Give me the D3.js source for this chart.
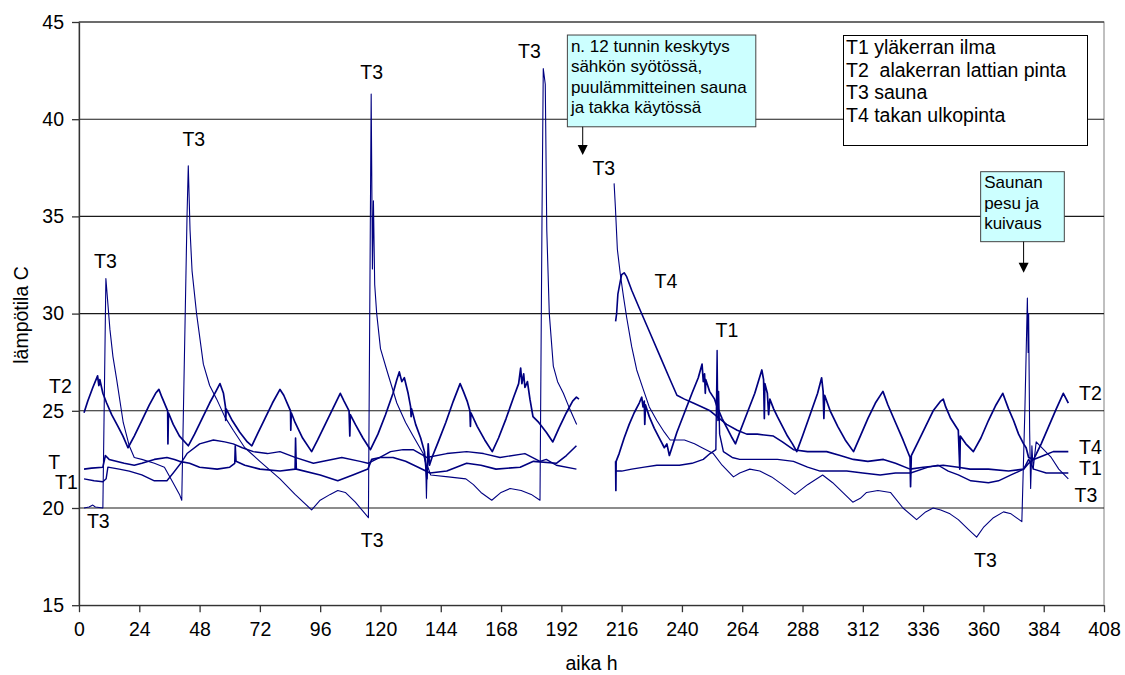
<!DOCTYPE html>
<html>
<head>
<meta charset="utf-8">
<script src="https://cdn.jsdelivr.net/npm/d3@7"></script>
<style>
  body { margin: 0; background: #fff; }
  svg { display: block; font-family: "Liberation Sans", Arial, sans-serif; }
</style>
</head>
<body>
<svg id="chart" width="1125" height="675"></svg>
<script>
// ---- axes ----
const xTicks = d3.range(0, 409, 24);          // aika h
const yTicks = [15, 20, 25, 30, 35, 40, 45];   // lämpötila C
const yGrid = [20, 25, 30, 35, 40, 45];

// ---- measured temperatures: [hour, °C]; null marks the power outage gap ----
const t1 = [
  [2,21.5],[6,21.4],[9.5,21.35],[10.8,21.5],[11.5,22.1],[16,22.0],[20,21.9],[25,21.7],[30,21.4],[35,21.4],
  [37.5,21.8],[40.5,22.3],[43,22.8],[48,23.3],[53.5,23.5],[58,23.4],[61.4,23.3],[65,23.1],[69.4,22.9],[75,22.8],
  [80,22.9],[86,22.6],[93.3,22.3],[104.6,22.6],[111.9,22.4],[115,22.3],[119.8,22.6],[124,22.9],[129,23.0],[133,23.0],
  [138.4,22.6],[146.4,22.8],[154.3,22.9],[161,22.8],[167.6,22.6],[177.5,22.8],[183.5,22.4],[186,22.5],[190,22.2],[198,22.0],
  [205,null],
  [213.6,21.9],[216,21.9],[220,22.0],[225,22.1],[230,22.2],[235,22.2],[239,22.2],[244,22.3],[248.5,22.5],[251.2,22.8],
  [253.5,23.0],[254,28.1],[254.3,24.5],[254.6,26.0],[255,23.8],[256.5,22.9],[260,22.6],[263,22.5],[270,22.5],[278,22.5],
  [284.4,22.4],[290,22.1],[295,21.9],[305.6,21.9],[312,21.8],[318.9,21.7],[325,21.8],[331,21.8],[338,22.1],[342,22.2],
  [346,21.9],[350,21.7],[355,21.4],[362,21.3],[366,21.4],[371,21.7],[376,22.0],[378,22.5],[380,22.0],[385,21.8],[393.8,21.8]
];

const t2 = [
  [2,24.9],[3.5,25.5],[5.5,26.2],[7.4,26.8],[7.9,26.3],[8.3,26.6],[9.5,25.9],[11,25.4],[13,24.8],[15.5,24.2],
  [17.5,23.7],[19.5,23.1],[22,23.7],[25,24.5],[28,25.3],[30.5,25.9],[31.8,26.1],[33,25.7],[35.3,25.0],[35.4,23.3],
  [35.6,24.9],[37.5,24.3],[40,23.7],[43.5,23.2],[46,23.8],[49,24.6],[52,25.4],[54.5,26.0],[56.1,26.4],[57.5,25.9],
  [58.3,25.2],[58.4,24.5],[58.6,25.1],[61,24.5],[64,23.9],[67,23.4],[68.8,23.2],[71,23.8],[74,24.6],[77,25.4],
  [80,26.1],[81.5,25.8],[83.5,25.2],[84.2,25.0],[84.3,24.0],[84.5,24.9],[86,24.4],[89,23.6],[92.6,22.9],[95,23.5],
  [98,24.3],[101,25.1],[104,25.9],[105.5,25.5],[107.5,25.0],[107.8,23.7],[108,24.8],[110,24.3],[113,23.6],[116,23.0],
  [119,23.8],[122,24.8],[125,25.9],[126.5,26.6],[127.5,27.0],[128.5,26.5],[129.5,26.7],[131,25.9],[132,25.2],[132.2,24.7],
  [132.4,25.1],[134,24.3],[136,23.6],[137.5,22.9],[138.5,21.5],[139,23.3],[139.5,22.2],[140.5,22.6],[143,23.4],[146,24.4],
  [149,25.5],[151.7,26.4],[153,26.0],[154.5,25.5],[155.6,25.0],[155.8,24.2],[156,24.9],[158.5,24.2],[161.5,23.5],[164.5,22.9],
  [167,23.6],[170,24.6],[173,25.7],[175,26.4],[175.8,27.2],[176.3,26.4],[177,26.9],[177.5,26.2],[178.5,26.5],[179.5,25.6],
  [180.7,24.7],[183,24.4],[186,23.9],[188.6,23.4],[191,24.1],[194,24.9],[196.5,25.5],[198,25.7],[199,25.6],
  [205,null],
  [213.6,22.4],[213.7,20.9],[213.8,22.4],[215,22.8],[217,23.6],[219,24.3],[221,24.9],[223,25.4],[224,25.7],[224.5,25.2],
  [225,25.5],[225.2,24.3],[225.5,25.3],[227,24.7],[229,24.1],[231,23.6],[233,23.1],[234,23.3],[235,22.7],[236,23.1],
  [238,23.9],[241,24.9],[244,25.9],[246.5,26.7],[248,27.4],[248.5,26.5],[249,26.9],[249.3,25.9],[249.5,26.6],[251,26.0],
  [253,25.6],[254,25.2],[256,24.6],[258,24.1],[260,23.6],[261.3,23.3],[263,23.9],[266,24.9],[269,25.9],[271.8,27.1],
  [272.5,26.6],[272.8,24.6],[273,26.4],[274,25.9],[274.5,24.8],[275,25.6],[276.5,25.1],[278,24.7],[280,24.2],[282,23.7],
  [284,23.3],[285.7,22.9],[288,23.7],[291,24.8],[294,25.9],[295.6,26.7],[296.2,26.0],[296.5,24.6],[296.8,25.8],[299,25.0],
  [302,24.2],[305,23.5],[308.3,22.9],[311,23.7],[314,24.6],[317,25.4],[320,26.0],[322,25.3],[325,24.4],[328,23.5],
  [330.8,22.6],[331,21.1],[331.3,22.7],[334,23.4],[337,24.2],[340,25.0],[343,25.5],[344,25.6],[345,25.2],[347,24.6],
  [350,24.0],[350.6,22.0],[350.8,23.7],[353,23.3],[356,22.9],[359,23.6],[362,24.5],[365,25.3],[367.7,25.9],[370,25.1],
  [372,24.5],[374,23.8],[376,23.3],[377,23.1],[378,22.6],[380,22.5],[383,23.3],[386,24.2],[389,25.1],[391.8,25.9],
  [393,25.6],[393.8,25.4]
];

const t3 = [
  [2,20.0],[4,20.05],[5.5,20.15],[6.5,20.05],[9.5,20.0],[10.7,31.8],[12.3,29.2],[13.5,27.8],[15,26.6],[17.6,24.4],
  [20,23.2],[22,22.6],[25,22.5],[30,22.3],[34,22.1],[37,21.4],[40,20.7],[40.9,20.4],[43,35.0],[43.5,37.6],
  [44.2,34.3],[45,32.2],[46.8,30.0],[49.5,27.4],[52,26.3],[54.8,25.6],[58,24.7],[61.4,24.0],[66,23.1],[72,22.4],
  [80,21.5],[86,20.7],[92.6,19.9],[96,20.4],[100,20.7],[103,20.9],[106,20.8],[110,20.3],[115.2,19.5],[116.3,41.3],
  [116.8,32.3],[117.2,35.8],[117.7,31.5],[118.5,30.0],[120,28.2],[122.5,27.1],[126.5,25.4],[130,24.4],[133,23.7],[137,22.8],
  [138,22.3],[138.3,20.5],[138.6,22.2],[140,21.7],[147,21.6],[154,21.5],[157,21.2],[160,20.8],[164.3,20.4],[168,20.8],
  [171.6,21.0],[176,20.9],[180,20.7],[183.5,20.4],[184.3,35.0],[184.8,42.6],[185.6,41.8],[186.2,34.3],[187.2,30.0],[188.8,27.3],
  [190.5,26.5],[192.8,25.9],[195,25.2],[198.1,24.3],
  [205,null],
  [213,36.7],[213.5,35.5],[214.3,33.3],[215.5,32.0],[216.7,30.9],[218,29.8],[220,28.3],[222,27.1],[224.6,26.1],[227,25.2],
  [230,24.5],[233,23.9],[235.3,23.5],[238,23.5],[241,23.5],[245,23.3],[248,23.1],[252.5,22.8],[256,22.2],[260.5,21.6],
  [263,21.8],[267,22.0],[271,21.9],[275.7,21.6],[280,21.2],[285,20.7],[290,21.2],[296,21.7],[300,21.3],[304,20.8],
  [308,20.3],[311,20.5],[313.5,20.8],[318,20.9],[323,20.8],[328,20.0],[333.4,19.4],[337,19.8],[340,20.0],[343,19.9],
  [346.7,19.7],[350,19.4],[354,18.9],[357.3,18.5],[360,19.0],[364,19.5],[368,19.8],[371,19.7],[375.3,19.3],[376.5,25.0],
  [377.5,30.8],[377.8,28.0],[378,30.0],[378.4,24.0],[378.8,21.0],[379.3,23.2],[379.8,22.0],[381,23.4],[384,23.0],[387,22.6],
  [390,22.0],[393.8,21.5]
];

const t4 = [
  [2,22.0],[5,22.05],[9.5,22.1],[10.5,22.7],[12,22.5],[18,22.3],[22,22.2],[25,22.3],[30,22.5],[35,22.6],
  [38,22.5],[40,22.4],[44,22.3],[48,22.1],[55,22.0],[60,22.1],[62,22.3],[62.2,23.2],[62.5,22.4],[66,22.2],
  [72,22.0],[80,21.9],[86,22.0],[86.2,23.6],[86.5,22.0],[96,21.7],[103,21.4],[109,21.7],[115,22.0],[116.5,22.5],
  [119.8,22.6],[125,22.6],[130,22.4],[135,22.1],[139.7,21.8],[146.4,21.9],[154.3,22.3],[160,22.2],[166,22.0],[175.6,22.1],
  [180.9,22.4],[190,22.3],[194,22.7],[198,23.2],
  [205,null],
  [213.6,29.6],[214,30.0],[214.5,31.0],[215.5,31.7],[216,32.0],[217,32.1],[218,31.9],[220,31.2],[223.3,30.2],[227.3,29.0],
  [231.3,27.8],[235.3,26.6],[238,25.8],[241,25.6],[244.5,25.4],[248,25.2],[251.2,25.0],[254,24.7],[257.8,24.3],[262,24.0],
  [265.8,23.8],[270,23.8],[276.4,23.7],[280,23.4],[284.4,23.0],[290,22.9],[297.6,22.9],[303,22.7],[308.2,22.5],[314,22.4],
  [320.2,22.5],[325,22.3],[330.8,22.0],[336,22.1],[344,22.2],[350,22.1],[354.7,22.0],[362,22.0],[370,21.9],[376,22.0],
  [378,22.3],[380,22.5],[384,22.7],[387.8,22.9],[393.8,22.9]
];

// drawing order with per-series stroke weight
const seriesList = [
  { name: "T3", values: t3, width: 1.1 },
  { name: "T1", values: t1, width: 1.4 },
  { name: "T4", values: t4, width: 1.6 },
  { name: "T2", values: t2, width: 1.7 }
];

// series tags written beside the curves: [text, hour, °C at baseline]
const curveTags = [
  ["T3", 10.5, 32.35], ["T2", -7.4, 25.9], ["T", -9.9, 22.0], ["T1", -5.0, 21.0], ["T3", 7.7, 18.96],
  ["T3", 45.7, 38.6], ["T3", 116.5, 42.07], ["T3", 179.3, 43.13], ["T3", 208.9, 37.13], ["T4", 233.6, 31.3],
  ["T1", 257.9, 28.78], ["T3", 116.7, 18.0], ["T3", 360.8, 16.98], ["T2", 402.6, 25.56], ["T4", 402.6, 22.78],
  ["T1", 402.6, 21.7], ["T3", 400.8, 20.32]
];

const legendLines = ["T1 yläkerran ilma", "T2  alakerran lattian pinta", "T3 sauna", "T4 takan ulkopinta"];
const noteOutage = ["n. 12 tunnin keskytys", "sähkön syötössä,", "puulämmitteinen sauna", "ja takka käytössä"];
const noteWash = ["Saunan", "pesu ja", "kuivaus"];

(function draw() {
  const svg = d3.select("#chart");
  const pl = 79, pr = 1104, pt = 22, pb = 605.2;
  const x = d3.scaleLinear().domain([0, 408]).range([pl, pr]);
  const y = d3.scaleLinear().domain([15, 45]).range([pb, pt]);
  const navy = "#000080";
  const fontSize = 19.5;

  // plot frame and gridlines
  svg.append("rect").attr("x", pl).attr("y", pt).attr("width", pr - pl).attr("height", pb - pt)
    .attr("fill", "none").attr("stroke", "#808080").attr("stroke-width", 1);
  svg.append("g").selectAll("line").data(yGrid).join("line")
    .attr("x1", pl).attr("x2", pr).attr("y1", d => y(d)).attr("y2", d => y(d))
    .attr("stroke", "#1a1a1a").attr("stroke-width", 1.1);

  // axes
  const xAxis = d3.axisBottom(x).tickValues(xTicks).tickSize(7).tickPadding(5).tickSizeOuter(0);
  const gx = svg.append("g").attr("transform", `translate(0,${pb})`).call(xAxis);
  const yAxis = d3.axisLeft(y).tickValues(yTicks).tickSize(7).tickPadding(8).tickSizeOuter(0);
  const gy = svg.append("g").attr("transform", `translate(${pl},0)`).call(yAxis);
  [gx, gy].forEach(g => {
    g.select(".domain").attr("stroke", "#333").attr("stroke-width", 1.3);
    g.selectAll(".tick line").attr("stroke", "#333").attr("stroke-width", 1.3);
    g.selectAll(".tick text").attr("font-size", fontSize).attr("fill", "#000")
      .attr("font-family", '"Liberation Sans", Arial, sans-serif');
  });
  gx.selectAll(".tick text").attr("dy", "0.95em");

  // axis titles
  svg.append("text").attr("x", (pl + pr) / 2).attr("y", 670).attr("text-anchor", "middle")
    .attr("font-size", fontSize).text("aika h");
  svg.append("text").attr("transform", "translate(27.5,315) rotate(-90)").attr("text-anchor", "middle")
    .attr("font-size", fontSize).text("lämpötila C");

  // temperature curves
  const line = d3.line().defined(d => d[1] !== null).x(d => x(d[0])).y(d => y(d[1]));
  svg.append("g").selectAll("path").data(seriesList).join("path")
    .attr("d", d => line(d.values)).attr("fill", "none").attr("stroke", navy)
    .attr("stroke-width", d => d.width).attr("stroke-linejoin", "round");

  // curve tags
  svg.append("g").selectAll("text").data(curveTags).join("text")
    .attr("x", d => x(d[1])).attr("y", d => y(d[2])).attr("text-anchor", "middle")
    .attr("font-size", fontSize).text(d => d[0]);

  // legend box
  const lg = svg.append("g");
  lg.append("rect").attr("x", 843.5).attr("y", 35.5).attr("width", 244).attr("height", 110)
    .attr("fill", "#fff").attr("stroke", "#000").attr("stroke-width", 1);
  lg.selectAll("text").data(legendLines).join("text")
    .attr("x", 846).attr("y", (d, i) => 54.3 + i * 22.4).attr("font-size", fontSize)
    .style("white-space", "pre").text(d => d);

  // callout boxes with arrows
  function callout(lines, box, arrow, fs, lh) {
    const g = svg.append("g");
    g.append("rect").attr("x", x(box[0])).attr("y", y(box[1]))
      .attr("width", x(box[2]) - x(box[0])).attr("height", y(box[3]) - y(box[1]))
      .attr("fill", "#ccffff").attr("stroke", "#444").attr("stroke-width", 1);
    g.selectAll("text").data(lines).join("text")
      .attr("x", x(box[0]) + 3.5).attr("y", (d, i) => y(box[1]) + 16.5 + i * lh)
      .attr("font-size", fs).text(d => d);
    const ax = x(arrow[0]), ay0 = y(arrow[1]), ay1 = y(arrow[2]);
    g.append("line").attr("x1", ax).attr("x2", ax).attr("y1", ay0).attr("y2", ay1 - 9)
      .attr("stroke", "#000").attr("stroke-width", 1);
    g.append("path").attr("d", `M${ax - 5},${ay1 - 10}L${ax + 5},${ay1 - 10}L${ax},${ay1}Z`).attr("fill", "#000");
  }
  callout(noteOutage, [194.4, 44.33, 269.4, 39.61], [200.5, 39.61, 38.16], 17, 20.6);
  callout(noteWash, [358.9, 37.3, 392.2, 33.7], [376.0, 33.7, 32.1], 17, 20.6);
})();
</script>
</body>
</html>
